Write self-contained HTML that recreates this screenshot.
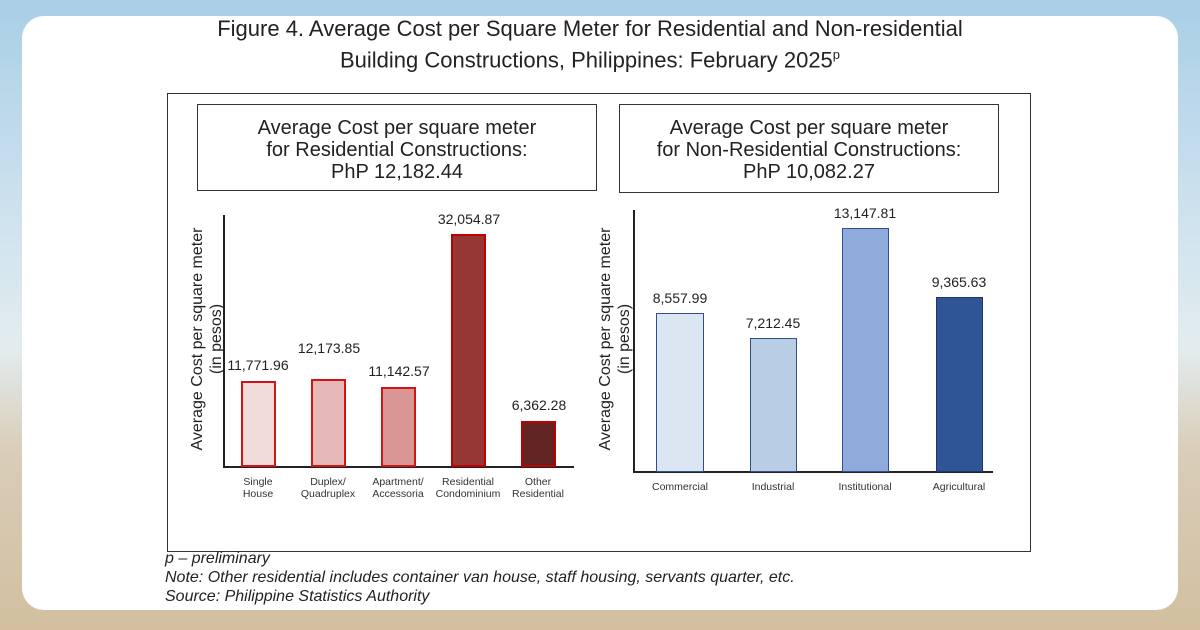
<!DOCTYPE html>
<html><head><style>
body{margin:0;width:1200px;height:630px;overflow:hidden;font-family:"Liberation Sans",sans-serif;
background:linear-gradient(180deg,#a9cfe6 0%,#cfe3ee 35%,#e2ecef 55%,#d9cdb8 72%,#d2bfa0 100%);position:relative}
.card{position:absolute;left:22px;top:16px;width:1156px;height:594px;background:#fff;border-radius:22px}
.t{position:absolute;color:#222;font-size:22px;text-align:center;width:1200px;left:-10px}
.a{position:absolute;color:#222}
.box{position:absolute;border:1.3px solid #333;text-align:center;font-size:20px;line-height:22px;color:#222;box-sizing:border-box;padding-top:12px}
.bar{position:absolute;box-sizing:border-box}
.v{position:absolute;font-size:14px;color:#222;width:100px;text-align:center}
.c{position:absolute;font-size:10.5px;color:#333;width:90px;text-align:center;line-height:12px}
.f{position:absolute;left:165px;font-style:italic;font-size:16px;color:#222}
</style></head><body>
<div class="card"></div>
<div class="t" style="top:16px">Figure 4. Average Cost per Square Meter for Residential and Non-residential</div>
<div class="t" style="top:47px">Building Constructions, Philippines: February 2025<sup style="font-size:13px">p</sup></div>
<div style="position:absolute;left:167px;top:93px;width:864px;height:459px;border:1.3px solid #333;box-sizing:border-box"></div>
<div class="box" style="left:197px;top:104px;width:400px;height:87px">Average Cost per square meter<br>for Residential Constructions:<br>PhP 12,182.44</div>
<div class="box" style="left:619px;top:104px;width:380px;height:89px">Average Cost per square meter<br>for Non-Residential Constructions:<br>PhP 10,082.27</div>
<!-- left axes -->
<div style="position:absolute;left:223px;top:215px;width:1.5px;height:253px;background:#222"></div>
<div style="position:absolute;left:223px;top:466px;width:351px;height:1.5px;background:#222"></div>
<div class="a" style="left:72px;top:320px;width:270px;text-align:center;transform:rotate(-90deg);font-size:16px;line-height:19px">Average Cost per square meter<br>(in pesos)</div>
<div class="bar" style="left:241px;top:381px;width:35px;height:86px;background:#f2dcdb;border:2px solid #d01515"></div>
<div class="bar" style="left:311px;top:379px;width:35px;height:88px;background:#e6b8b7;border:2px solid #d01515"></div>
<div class="bar" style="left:381px;top:387px;width:35px;height:80px;background:#da9694;border:2px solid #d01515"></div>
<div class="bar" style="left:451px;top:234px;width:35px;height:233px;background:#953735;border:2px solid #c00000"></div>
<div class="bar" style="left:521px;top:421px;width:35px;height:46px;background:#632523;border:2px solid #c00000"></div>
<div class="v" style="left:208px;top:357px">11,771.96</div>
<div class="v" style="left:279px;top:340px">12,173.85</div>
<div class="v" style="left:349px;top:363px">11,142.57</div>
<div class="v" style="left:419px;top:211px">32,054.87</div>
<div class="v" style="left:489px;top:397px">6,362.28</div>
<div class="c" style="left:213px;top:476px">Single<br>House</div>
<div class="c" style="left:283px;top:476px">Duplex/<br>Quadruplex</div>
<div class="c" style="left:353px;top:476px">Apartment/<br>Accessoria</div>
<div class="c" style="left:423px;top:476px">Residential<br>Condominium</div>
<div class="c" style="left:493px;top:476px">Other<br>Residential</div>
<!-- right axes -->
<div style="position:absolute;left:633px;top:210px;width:1.5px;height:263px;background:#222"></div>
<div style="position:absolute;left:633px;top:471px;width:360px;height:1.5px;background:#222"></div>
<div class="a" style="left:480px;top:320px;width:270px;text-align:center;transform:rotate(-90deg);font-size:16px;line-height:19px">Average Cost per square meter<br>(in pesos)</div>
<div class="bar" style="left:656px;top:313px;width:48px;height:159px;background:#dce6f2;border:1.5px solid #2f4f8f"></div>
<div class="bar" style="left:750px;top:338px;width:47px;height:134px;background:#b9cde5;border:1.5px solid #2f4f8f"></div>
<div class="bar" style="left:842px;top:228px;width:47px;height:244px;background:#8eabdc;border:1.5px solid #2f4f8f"></div>
<div class="bar" style="left:936px;top:297px;width:47px;height:175px;background:#2f5597;border:1.5px solid #1f3864"></div>
<div class="v" style="left:630px;top:290px">8,557.99</div>
<div class="v" style="left:723px;top:315px">7,212.45</div>
<div class="v" style="left:815px;top:205px">13,147.81</div>
<div class="v" style="left:909px;top:274px">9,365.63</div>
<div class="c" style="left:635px;top:481px">Commercial</div>
<div class="c" style="left:728px;top:481px">Industrial</div>
<div class="c" style="left:820px;top:481px">Institutional</div>
<div class="c" style="left:914px;top:481px">Agricultural</div>
<div class="f" style="top:550px">p – preliminary</div>
<div class="f" style="top:569px">Note: Other residential includes container van house, staff housing, servants quarter, etc.</div>
<div class="f" style="top:588px">Source: Philippine Statistics Authority</div>
</body></html>
